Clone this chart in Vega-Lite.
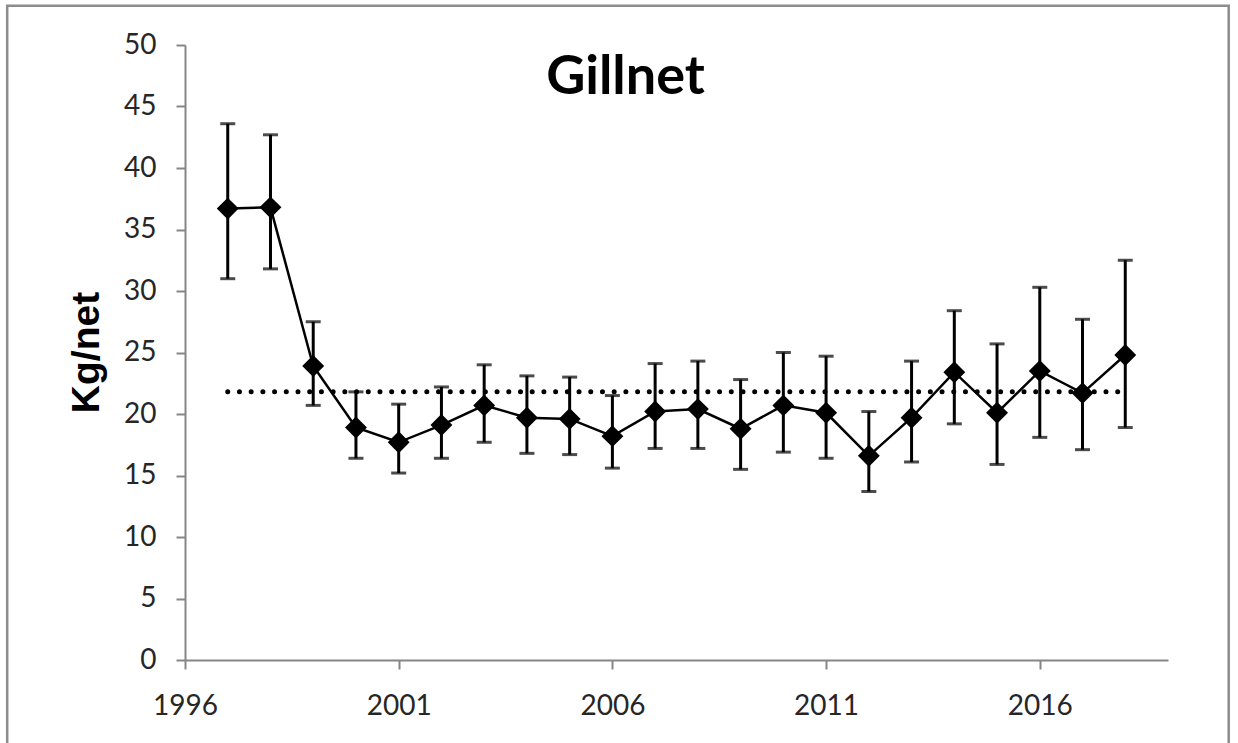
{
  "$schema": "https://vega.github.io/schema/vega-lite/v6.json",
  "autosize": {"type": "none"},
  "width": 983,
  "height": 615,
  "padding": {"left": 185, "top": 45, "right": 70, "bottom": 83},
  "background": "white",
  "title": {
    "text": "Gillnet",
    "font": "Lato",
    "fontWeight": "bold",
    "fontSize": 54,
    "color": "black",
    "anchor": "middle",
    "frame": "group",
    "baseline": "alphabetic",
    "offset": -47,
    "dy": 97,
    "dx": -51
  },
  "config": {
    "view": {"stroke": null},
    "axis": {
      "domainColor": "#868686",
      "domainWidth": 2,
      "tickColor": "#868686",
      "tickWidth": 2,
      "tickSize": 9,
      "grid": false,
      "labelFont": "Lato",
      "labelFontSize": 28,
      "labelColor": "#262626"
    }
  },
  "datasets": {
    "cpue": [
      {"year": 1997, "kg": 36.7, "lo": 31.0, "hi": 43.6},
      {"year": 1998, "kg": 36.8, "lo": 31.8, "hi": 42.7},
      {"year": 1999, "kg": 23.9, "lo": 20.7, "hi": 27.5},
      {"year": 2000, "kg": 18.9, "lo": 16.4, "hi": 21.8},
      {"year": 2001, "kg": 17.7, "lo": 15.2, "hi": 20.8},
      {"year": 2002, "kg": 19.1, "lo": 16.4, "hi": 22.2},
      {"year": 2003, "kg": 20.7, "lo": 17.7, "hi": 24.0},
      {"year": 2004, "kg": 19.7, "lo": 16.8, "hi": 23.1},
      {"year": 2005, "kg": 19.6, "lo": 16.7, "hi": 23.0},
      {"year": 2006, "kg": 18.2, "lo": 15.6, "hi": 21.5},
      {"year": 2007, "kg": 20.2, "lo": 17.2, "hi": 24.1},
      {"year": 2008, "kg": 20.4, "lo": 17.2, "hi": 24.3},
      {"year": 2009, "kg": 18.8, "lo": 15.5, "hi": 22.8},
      {"year": 2010, "kg": 20.7, "lo": 16.9, "hi": 25.0},
      {"year": 2011, "kg": 20.1, "lo": 16.4, "hi": 24.7},
      {"year": 2012, "kg": 16.6, "lo": 13.7, "hi": 20.2},
      {"year": 2013, "kg": 19.7, "lo": 16.1, "hi": 24.3},
      {"year": 2014, "kg": 23.4, "lo": 19.2, "hi": 28.4},
      {"year": 2015, "kg": 20.1, "lo": 15.9, "hi": 25.7},
      {"year": 2016, "kg": 23.5, "lo": 18.1, "hi": 30.3},
      {"year": 2017, "kg": 21.7, "lo": 17.1, "hi": 27.7},
      {"year": 2018, "kg": 24.8, "lo": 18.9, "hi": 32.5}
    ],
    "mean": [
      {"start": 1997, "end": 2018, "mean": 21.8}
    ]
  },
  "layer": [
    {
      "data": {"values": [{}]},
      "mark": {"type": "rect", "filled": false, "color": "#8c8c8c", "strokeWidth": 2.5, "clip": false},
      "encoding": {
        "x": {"datum": 1991.84, "type": "quantitative", "scale": {"domain": [1996, 2019], "nice": false, "zero": false}},
        "x2": {"datum": 2020.42},
        "y": {"datum": 53.2, "type": "quantitative", "title": "Kg/net", "scale": {"domain": [0, 50], "nice": false}},
        "y2": {"datum": -8}
      }
    },
    {
      "data": {"name": "mean"},
      "mark": {"type": "rule", "color": "black", "strokeWidth": 5, "strokeCap": "round", "strokeDash": [0.01, 11.7]},
      "encoding": {
        "x": {"field": "start", "type": "quantitative"},
        "x2": {"field": "end"},
        "y": {"field": "mean", "type": "quantitative", "title": "Kg/net"}
      }
    },
    {
      "data": {"name": "cpue"},
      "mark": {
        "type": "errorbar",
        "thickness": 3,
        "size": 15,
        "color": "black",
        "ticks": true
      },
      "encoding": {
        "x": {"field": "year", "type": "quantitative"},
        "y": {"field": "lo", "type": "quantitative", "title": "Kg/net"},
        "y2": {"field": "hi"}
      }
    },
    {
      "data": {"name": "cpue"},
      "mark": {"type": "line", "color": "black", "strokeWidth": 2.5},
      "encoding": {
        "x": {"field": "year", "type": "quantitative"},
        "y": {"field": "kg", "type": "quantitative", "title": "Kg/net"}
      }
    },
    {
      "data": {"name": "cpue"},
      "mark": {"type": "point", "shape": "diamond", "filled": true, "color": "black", "opacity": 1, "size": 480},
      "encoding": {
        "x": {
          "field": "year", "type": "quantitative",
          "axis": {"title": null, "values": [1996, 2001, 2006, 2011, 2016], "format": "d", "labelPadding": 23, "labelFlush": false}
        },
        "y": {
          "field": "kg", "type": "quantitative", "title": "Kg/net",
          "axis": {
            "title": "Kg/net",
            "values": [0, 5, 10, 15, 20, 25, 30, 35, 40, 45, 50],
            "labelPadding": 20,
            "titleFont": "Liberation Sans",
            "titleFontWeight": "bold",
            "titleFontSize": 39,
            "titleColor": "black",
            "titleAngle": -90,
            "titleBaseline": "alphabetic",
            "titleAlign": "center",
            "titleX": -87,
            "titleY": 307
          }
        }
      }
    }
  ]
}
